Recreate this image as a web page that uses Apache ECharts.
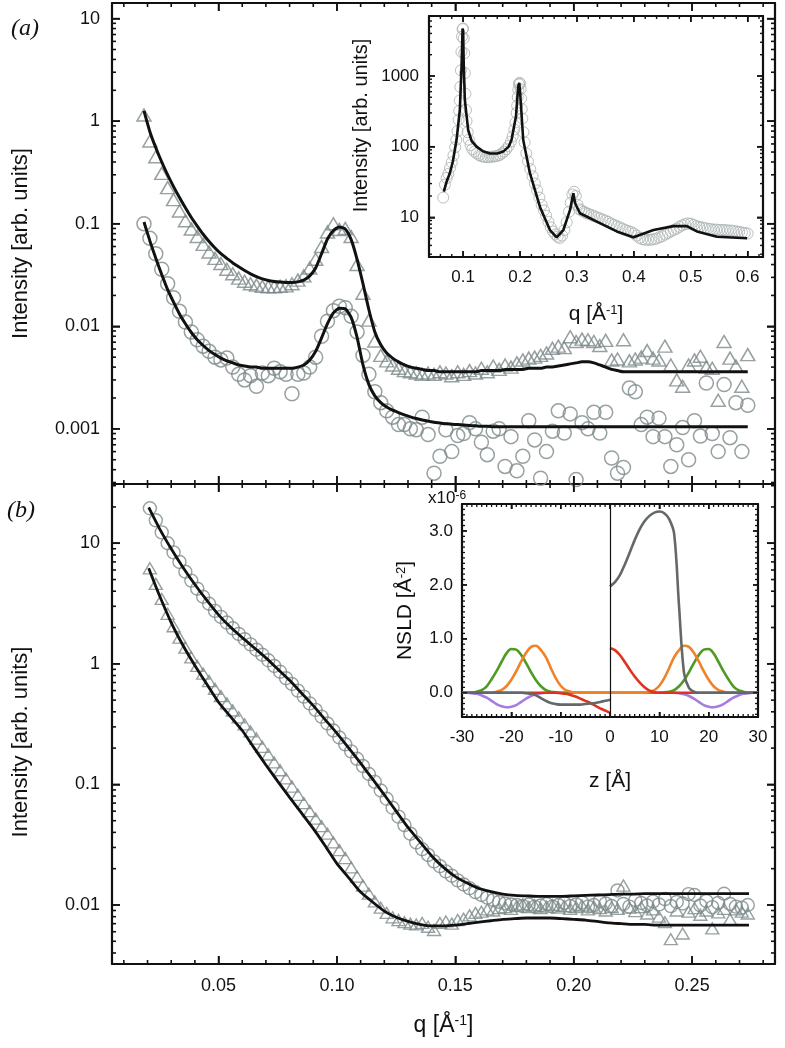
<!DOCTYPE html>
<html>
<head>
<meta charset="utf-8">
<script src="https://cdn.jsdelivr.net/npm/echarts@6/dist/echarts.min.js"></script>
<style>
html, body { margin: 0; padding: 0; background: #fff; }
#chart { width: 785px; height: 1048px; }
</style>
</head>
<body>
<div id="chart"></div>
<script>
// q grid of the measured points (panel a; panel b uses it from the 2nd point on)
var qA = [0.0185, 0.021, 0.0235, 0.026, 0.0285, 0.031, 0.0335, 0.036, 0.0385, 0.041,
    0.0435, 0.046, 0.0485, 0.051, 0.0535, 0.056, 0.0585, 0.061, 0.0635, 0.066,
    0.0685, 0.071, 0.0735, 0.076, 0.0785, 0.081, 0.0835, 0.086, 0.0885, 0.091,
    0.0935, 0.096, 0.0985, 0.101, 0.1035, 0.106, 0.1085, 0.111, 0.1135, 0.116,
    0.1185, 0.121, 0.1235, 0.126, 0.1285, 0.131, 0.1335, 0.136, 0.1385, 0.141,
    0.1435, 0.146, 0.1485, 0.151, 0.1535, 0.156, 0.1585, 0.161, 0.1635, 0.166,
    0.1685, 0.171, 0.1735, 0.176, 0.1785, 0.181, 0.1835, 0.186, 0.1885, 0.191,
    0.1935, 0.196, 0.1985, 0.201, 0.2035, 0.206, 0.2085, 0.211, 0.2135, 0.216,
    0.2185, 0.221, 0.2235, 0.226, 0.2285, 0.231, 0.2335, 0.236, 0.2385, 0.241,
    0.2435, 0.246, 0.2485, 0.251, 0.2535, 0.256, 0.2585, 0.261, 0.2635, 0.266,
    0.2685, 0.271, 0.2735];
var qB = qA.slice(1);

// panel (a) triangles / circles
var triA = [1.15, 0.64, 0.45, 0.31, 0.225, 0.172, 0.133, 0.107, 0.089, 0.075,
    0.063, 0.053, 0.046, 0.041, 0.036, 0.0325, 0.0295, 0.0275, 0.026, 0.0252,
    0.0245, 0.0243, 0.0243, 0.0245, 0.0248, 0.026, 0.0282, 0.031, 0.037, 0.045,
    0.060, 0.083, 0.100, 0.088, 0.090, 0.075, 0.040, 0.021, 0.0115, 0.0072,
    0.0052, 0.0046, 0.0042, 0.0039, 0.0037, 0.0036, 0.0035, 0.0034, 0.0035, 0.0034,
    0.0036, 0.0035, 0.0033, 0.0036, 0.0034, 0.0037, 0.0035, 0.0039, 0.0036, 0.0041,
    0.0038, 0.0042, 0.0040, 0.0044, 0.0047, 0.0049, 0.0050, 0.0052, 0.0055, 0.0061,
    0.0064, 0.0062, 0.0079, 0.0071, 0.0075, 0.0074, 0.0071, 0.0065, 0.0073, 0.0047,
    0.0048, 0.0074, 0.0046, 0.0048, 0.0050, 0.0058, 0.0049, 0.0047, 0.0064, 0.0042,
    0.0030, 0.0026, 0.0042, 0.0047, 0.0051, 0.0040, 0.0039, 0.0019, 0.0071, 0.0049,
    0.0041, 0.0026, 0.0053];
var circA = [0.100, 0.072, 0.051, 0.036, 0.026, 0.019, 0.0140, 0.0110, 0.0088, 0.0074,
    0.0064, 0.0057, 0.0050, 0.0047, 0.0049, 0.0040, 0.0034, 0.0030, 0.0033, 0.0026,
    0.0035, 0.0033, 0.0039, 0.0036, 0.0034, 0.0022, 0.0034, 0.0035, 0.0040, 0.0050,
    0.0080, 0.0112, 0.0142, 0.0157, 0.0152, 0.0125, 0.0088, 0.0052, 0.0034, 0.0023,
    0.0018, 0.0015, 0.0013, 0.0011, 0.0011, 0.0010, 0.00098, 0.0013, 0.00088, 0.00037,
    0.00054, 0.00098, 0.0006, 0.00086, 0.0009, 0.00115, 0.0010, 0.00074, 0.00056, 0.00095,
    0.0010, 0.00043, 0.00084, 0.00039, 0.00054, 0.0012, 0.00078, 0.00033, 0.0006, 0.00095,
    0.0015, 0.00091, 0.0014, 0.00032, 0.00115, 0.0010, 0.00145, 0.00091, 0.00145, 0.00052,
    0.00037, 0.00042, 0.0025, 0.0023, 0.0011, 0.0013, 0.00084, 0.00127, 0.00084, 0.00043,
    0.0007, 0.00103, 0.0005, 0.0012, 0.00085, 0.0028, 0.0009, 0.0006, 0.0027, 0.00082,
    0.0018, 0.0006, 0.0017];

// panel (a) fits, read on the same q grid
var fitTriA = [1.26, 0.79, 0.55, 0.40, 0.30, 0.23, 0.18, 0.143, 0.115, 0.095,
    0.079, 0.067, 0.058, 0.051, 0.046, 0.0415, 0.038, 0.035, 0.0325, 0.0305,
    0.029, 0.028, 0.0274, 0.0270, 0.0268, 0.0268, 0.0271, 0.0282, 0.031, 0.037,
    0.051, 0.071, 0.086, 0.093, 0.089, 0.070, 0.045, 0.026, 0.0145, 0.0088,
    0.0066, 0.0055, 0.0049, 0.0045, 0.0042, 0.0040, 0.0039, 0.0038, 0.0037, 0.0037,
    0.0036, 0.0036, 0.0036, 0.0036, 0.0036, 0.0036, 0.0036, 0.0037, 0.0037, 0.0037,
    0.0037, 0.0038, 0.0038, 0.0038, 0.0038, 0.0039, 0.0039, 0.0039, 0.0040, 0.0040,
    0.0041, 0.0042, 0.0043, 0.0044, 0.0045, 0.0045, 0.0044, 0.0042, 0.0040, 0.0038,
    0.0037, 0.0036, 0.0036, 0.0036, 0.0036, 0.0036, 0.0036, 0.0036, 0.0036, 0.0036,
    0.0036, 0.0036, 0.0036, 0.0036, 0.0036, 0.0036, 0.0036, 0.0036, 0.0036, 0.0036,
    0.0036, 0.0036, 0.0036];
var fitCircA = [0.104, 0.068, 0.046, 0.032, 0.0228, 0.0172, 0.0132, 0.0106, 0.0087, 0.0074,
    0.0065, 0.0058, 0.0053, 0.0049, 0.0046, 0.0044, 0.0042, 0.0041, 0.0040, 0.0040,
    0.0039, 0.0039, 0.0039, 0.0039, 0.0039, 0.0039, 0.0040, 0.0042, 0.0047, 0.0057,
    0.0077, 0.0106, 0.0135, 0.0150, 0.0148, 0.0122, 0.0078, 0.0042, 0.0027, 0.0021,
    0.0018, 0.00163, 0.00152, 0.00144, 0.00137, 0.00131, 0.00126, 0.00122, 0.00119, 0.00116,
    0.00114, 0.00112, 0.00111, 0.0011, 0.00109, 0.00108, 0.00107, 0.00106, 0.00106, 0.00105,
    0.00105, 0.00105, 0.00105, 0.00105, 0.00105, 0.00105, 0.00105, 0.00105, 0.00105, 0.00105,
    0.00105, 0.00105, 0.00105, 0.00105, 0.00105, 0.00105, 0.00105, 0.00105, 0.00105, 0.00105,
    0.00105, 0.00105, 0.00105, 0.00105, 0.00105, 0.00105, 0.00105, 0.00105, 0.00105, 0.00105,
    0.00105, 0.00105, 0.00105, 0.00105, 0.00105, 0.00105, 0.00105, 0.00105, 0.00105, 0.00105,
    0.00105, 0.00105, 0.00105];

// panel (b) circles / triangles
var circB = [19.5, 15.5, 12.3, 10.0, 8.4, 7.0, 5.8, 4.9, 4.2, 3.6,
    3.15, 2.75, 2.45, 2.2, 1.97, 1.77, 1.60, 1.45, 1.31, 1.19,
    1.07, 0.96, 0.86, 0.76, 0.68, 0.60, 0.535, 0.47, 0.415, 0.365,
    0.32, 0.28, 0.245, 0.215, 0.188, 0.163, 0.142, 0.122, 0.105, 0.089,
    0.076, 0.064, 0.054, 0.046, 0.039, 0.033, 0.029, 0.026, 0.023, 0.021,
    0.019, 0.0175, 0.0160, 0.0148, 0.0138, 0.0128, 0.0121, 0.0115, 0.0110, 0.0106,
    0.0103, 0.0101, 0.0100, 0.0098, 0.0101, 0.0097, 0.0099, 0.0102, 0.0097, 0.0100,
    0.0104, 0.0098, 0.0101, 0.0105, 0.0097, 0.0100, 0.0108, 0.0103, 0.0098, 0.0132,
    0.0102, 0.0097, 0.0110, 0.0104, 0.0099, 0.0107, 0.0101, 0.0112, 0.0098, 0.0106,
    0.0103, 0.0123, 0.0121, 0.0099, 0.0108, 0.0096, 0.0104, 0.0124, 0.0102, 0.0097,
    0.0095, 0.0100];
var triB = [6.2, 4.6, 3.45, 2.6, 2.05, 1.65, 1.36, 1.13, 0.96, 0.83,
    0.72, 0.62, 0.54, 0.47, 0.41, 0.36, 0.315, 0.275, 0.24, 0.205,
    0.177, 0.152, 0.131, 0.112, 0.096, 0.082, 0.070, 0.060, 0.052, 0.045,
    0.039, 0.033, 0.0285, 0.0245, 0.0205, 0.0172, 0.0145, 0.0124, 0.0107, 0.0095,
    0.0086, 0.0079, 0.0075, 0.0072, 0.0070, 0.0069, 0.0071, 0.0066, 0.0062, 0.0071,
    0.0073, 0.0070, 0.0075, 0.0077, 0.0082, 0.0086, 0.0088, 0.0092, 0.0090, 0.0094,
    0.0096, 0.0093, 0.0098, 0.0101, 0.0096, 0.0099, 0.0094, 0.0097, 0.0100, 0.0095,
    0.0098, 0.0093, 0.0096, 0.0099, 0.0092, 0.0097, 0.0094, 0.0090, 0.0096, 0.0093,
    0.0145, 0.0095, 0.0089, 0.0096, 0.0085, 0.0092, 0.0080, 0.0072, 0.0052, 0.0090,
    0.0058, 0.0088, 0.0094, 0.0083, 0.0090, 0.0064, 0.0087, 0.0093, 0.0076, 0.0092,
    0.0088, 0.0085];

// panel (b) fits
var qFitB = [0.0205, 0.025, 0.03, 0.035, 0.04, 0.045, 0.05, 0.055, 0.06, 0.065,
    0.07, 0.075, 0.08, 0.085, 0.09, 0.095, 0.1, 0.105, 0.11, 0.115,
    0.12, 0.125, 0.13, 0.135, 0.14, 0.145, 0.15, 0.155, 0.16, 0.165,
    0.17, 0.175, 0.18, 0.185, 0.19, 0.195, 0.2, 0.205, 0.21, 0.215,
    0.22, 0.225, 0.23, 0.235, 0.24, 0.245, 0.25, 0.255, 0.26, 0.265,
    0.27, 0.274];
var fitCircB = [19.8, 13.3, 9.0, 6.3, 4.55, 3.37, 2.55, 2.02, 1.65, 1.36,
    1.12, 0.904, 0.73, 0.573, 0.45, 0.345, 0.265, 0.20, 0.15, 0.111,
    0.082, 0.060, 0.044, 0.0335, 0.0255, 0.0205, 0.0172, 0.0152, 0.0137, 0.0129,
    0.0123, 0.0120, 0.0119, 0.0118, 0.0118, 0.0118, 0.0119, 0.0120, 0.0121, 0.0122,
    0.0123, 0.0123, 0.0124, 0.0124, 0.0124, 0.0124, 0.0124, 0.0124, 0.0124, 0.0124,
    0.0124, 0.0124];
var fitTriB = [6.2, 3.7, 2.2, 1.42, 0.97, 0.68, 0.48, 0.366, 0.28, 0.201,
    0.145, 0.106, 0.078, 0.058, 0.043, 0.031, 0.022, 0.0168, 0.0128, 0.0106,
    0.0089, 0.0079, 0.0073, 0.0069, 0.0067, 0.0067, 0.0068, 0.0070, 0.0072, 0.0074,
    0.0076, 0.0077, 0.0078, 0.0078, 0.0078, 0.0077, 0.0076, 0.0075, 0.0073, 0.0071,
    0.0070, 0.0069, 0.0069, 0.0068, 0.0068, 0.0068, 0.0068, 0.0068, 0.0068, 0.0068,
    0.0068, 0.0068];

// inset (a): wide q range
var qIn = [0.065, 0.068, 0.071, 0.074, 0.077, 0.080, 0.083, 0.086, 0.088, 0.090,
    0.092, 0.093, 0.094, 0.095, 0.096, 0.097, 0.098, 0.099, 0.100, 0.101,
    0.102, 0.103, 0.104, 0.105, 0.106, 0.108, 0.110, 0.113, 0.116, 0.120,
    0.124, 0.128, 0.132, 0.136, 0.140, 0.144, 0.148, 0.152, 0.156, 0.160,
    0.164, 0.168, 0.172, 0.176, 0.180, 0.184, 0.187, 0.190, 0.192, 0.194,
    0.195, 0.196, 0.197, 0.198, 0.199, 0.200, 0.201, 0.202, 0.203, 0.204,
    0.206, 0.208, 0.211, 0.214, 0.218, 0.222, 0.226, 0.230, 0.234, 0.238,
    0.242, 0.246, 0.250, 0.254, 0.258, 0.262, 0.266, 0.270, 0.274, 0.278,
    0.282, 0.286, 0.289, 0.292, 0.295, 0.298, 0.301, 0.304, 0.308, 0.312,
    0.316, 0.320, 0.325, 0.330, 0.335, 0.340, 0.345, 0.350, 0.355, 0.360,
    0.365, 0.370, 0.375, 0.380, 0.385, 0.390, 0.395, 0.400, 0.405, 0.410,
    0.415, 0.420, 0.425, 0.430, 0.435, 0.440, 0.445, 0.450, 0.455, 0.460,
    0.465, 0.470, 0.475, 0.480, 0.485, 0.490, 0.495, 0.500, 0.505, 0.510,
    0.515, 0.520, 0.525, 0.530, 0.535, 0.540, 0.545, 0.550, 0.555, 0.560,
    0.565, 0.570, 0.575, 0.580, 0.585, 0.590, 0.595, 0.600];
var inCirc = [19, 29, 36, 41, 50, 60, 75, 98, 125, 165,
    240, 320, 450, 700, 1200, 2200, 3600, 4600, 4700, 3400,
    2100, 1100, 560, 330, 230, 160, 125, 105, 92, 85,
    80, 76, 73, 72, 71, 71, 72, 72, 73, 74,
    76, 80, 85, 92, 102, 118, 140, 175, 220, 300,
    380, 500, 640, 760, 800, 780, 650, 480, 340, 250,
    160, 115, 80, 62, 48, 38, 30, 24, 19, 15,
    12.5, 10.5, 8.6, 7.2, 6.3, 5.7, 5.3, 5.1, 5.5, 6.6,
    8.5, 12, 16, 21, 23, 20, 15, 13, 12.5, 12,
    11.5, 11.2, 10.8, 10.4, 10, 9.7, 9.3, 9.0, 8.6, 8.2,
    7.8, 7.5, 7.2, 6.9, 6.6, 6.4, 6.2, 5.9, 5.5, 5.1,
    4.9, 4.8, 4.8, 4.8, 4.9, 5.0, 5.2, 5.4, 5.7, 6.0,
    6.3, 6.6, 6.9, 7.3, 7.7, 8.0, 8.2, 8.1, 7.8, 7.5,
    7.3, 7.2, 7.0, 6.9, 6.8, 6.7, 6.7, 6.6, 6.6, 6.6,
    6.5, 6.5, 6.4, 6.3, 6.2, 6.1, 6.0, 5.9];
var qInFit = [0.066, 0.071, 0.0766, 0.082, 0.0884, 0.0942, 0.0972, 0.099, 0.1, 0.101,
    0.103, 0.1088, 0.115, 0.1236, 0.135, 0.147, 0.16, 0.1704, 0.18, 0.185,
    0.1928, 0.1968, 0.1986, 0.2, 0.201, 0.2056, 0.2174, 0.235, 0.2526, 0.2644,
    0.2761, 0.2879, 0.2937, 0.2967, 0.3054, 0.335, 0.37, 0.3993, 0.4345, 0.4697,
    0.4933, 0.5109, 0.5461, 0.599];
var inFit = [23, 32, 42, 62, 124, 330, 1360, 4700, 4400, 1500,
    457, 172, 120, 100, 86, 80, 80, 85, 100, 124,
    266, 707, 800, 600, 457, 124, 42, 14, 6.6, 5.2,
    6.6, 12.7, 21.9, 15.8, 11.4, 8.7, 6.3, 5.2, 6.6, 7.5,
    7.5, 6.3, 5.3, 5.05];

// inset (b): NSLD profiles, left and right of the z = 0 interface
var zL = [-30, -29, -28, -27, -26, -25, -24, -23, -22, -21, -20, -19, -18, -17, -16, -15,
    -14, -13, -12, -11, -10, -9, -8, -7, -6, -5, -4, -3, -2, -1, 0];
var zR = [0, 1, 2, 3, 4, 5, 6, 7, 8, 9, 10, 11, 12, 13, 14, 15,
    16, 17, 18, 19, 20, 21, 22, 23, 24, 25, 26, 27, 28, 29, 30];
var greenL = [0, 0, 0, 0.02, 0.05, 0.12, 0.25, 0.40, 0.57, 0.73, 0.81, 0.80, 0.70, 0.55, 0.38, 0.23,
    0.12, 0.05, 0.02, 0.01, 0, 0, 0, 0, 0, 0, 0, 0, 0, 0, 0];
var greenR = [0, 0, 0, 0, 0, 0, 0, 0, 0, 0, 0, 0.01, 0.02, 0.05, 0.12, 0.23,
    0.38, 0.55, 0.70, 0.80, 0.81, 0.73, 0.57, 0.40, 0.25, 0.12, 0.05, 0.02, 0, 0, 0];
var orangeL = [0, 0, 0, 0, 0, 0, 0, 0.02, 0.05, 0.12, 0.24, 0.40, 0.58, 0.74, 0.85, 0.87,
    0.79, 0.66, 0.46, 0.27, 0.13, 0.05, 0.02, 0, 0, 0, 0, 0, 0, 0, 0];
var orangeR = [0, 0, 0, 0, 0, 0, 0, 0, 0.02, 0.05, 0.13, 0.27, 0.46, 0.66, 0.79, 0.87,
    0.85, 0.74, 0.58, 0.40, 0.24, 0.12, 0.05, 0.02, 0, 0, 0, 0, 0, 0, 0];
var purpleL = [0, 0, -0.01, -0.02, -0.05, -0.09, -0.15, -0.21, -0.25, -0.27, -0.26, -0.23, -0.17, -0.11, -0.06, -0.03,
    -0.01, 0, 0, 0, 0, 0, 0, 0, 0, 0, 0, 0, 0, 0, 0];
var purpleR = [0, 0, 0, 0, 0, 0, 0, 0, 0, 0, 0, 0, 0, 0, -0.01, -0.03,
    -0.06, -0.11, -0.17, -0.23, -0.26, -0.27, -0.25, -0.21, -0.15, -0.09, -0.05, -0.02, -0.01, 0, 0];
var redL = [0, 0, 0, 0, 0, 0, 0, 0, 0, 0, 0, 0, 0, 0, 0, 0,
    0, 0, 0, 0, -0.01, -0.02, -0.04, -0.07, -0.11, -0.15, -0.19, -0.24, -0.29, -0.33, -0.37];
var redR = [0.83, 0.79, 0.70, 0.57, 0.43, 0.30, 0.19, 0.10, 0.04, 0.01, 0, 0, 0, 0, 0, 0,
    0, 0, 0, 0, 0, 0, 0, 0, 0, 0, 0, 0, 0, 0, 0];
var greyL = [0, 0, 0, 0, 0, 0, 0, 0, 0, 0, 0, 0, 0, -0.01, -0.02, -0.05,
    -0.10, -0.15, -0.19, -0.21, -0.22, -0.22, -0.22, -0.22, -0.22, -0.21, -0.20, -0.19, -0.17, -0.15, -0.13];
var greyR = [1.97, 2.05, 2.18, 2.38, 2.6, 2.83, 3.03, 3.18, 3.28, 3.34, 3.36, 3.33, 3.22, 2.95, 1.6, 0.37,
    0.09, 0.02, 0, 0, 0, 0, 0, 0, 0, 0, 0, 0, 0, 0, 0];

// tick values
var tickQMajor = [0.05, 0.10, 0.15, 0.20, 0.25];
var tickQMinor = [0.01, 0.02, 0.03, 0.04, 0.06, 0.07, 0.08, 0.09, 0.11, 0.12, 0.13, 0.14,
    0.16, 0.17, 0.18, 0.19, 0.21, 0.22, 0.23, 0.24, 0.26, 0.27, 0.28];
var tickIntA = [0.001, 0.01, 0.1, 1, 10];
var tickIntB = [0.01, 0.1, 1, 10];
var tickInQ = [0.1, 0.2, 0.3, 0.4, 0.5, 0.6];
var tickInQMinor = [0.04, 0.06, 0.08, 0.12, 0.14, 0.16, 0.18, 0.22, 0.24, 0.26, 0.28,
    0.32, 0.34, 0.36, 0.38, 0.42, 0.44, 0.46, 0.48, 0.52, 0.54, 0.56, 0.58, 0.62];
var tickInI = [10, 100, 1000];
var tickZ = [-30, -20, -10, 0, 10, 20, 30];
var tickZMajor = [-20, -10, 0, 10, 20];
var tickNsld = [0, 1, 2, 3];

var FONT = 'Liberation Sans, Arial, sans-serif';
var SYM = '#7d8989';

// grid boxes
var GRIDS = [
    { left: 112, top: 3, width: 663, height: 481 },
    { left: 112, top: 484, width: 663, height: 480 },
    { left: 429, top: 16, width: 334, height: 241 },
    { left: 462, top: 504, width: 296, height: 213 }
];

function logMinor(lo, hi) {
    var out = [];
    for (var e = Math.floor(Math.log10(lo)); e <= Math.ceil(Math.log10(hi)); e++) {
        for (var k = 2; k <= 9; k++) {
            var v = Number((k * Math.pow(10, e)).toPrecision(3));
            if (v >= lo && v <= hi) out.push(v);
        }
    }
    return out;
}

function stepTicks(lo, hi, step, skip) {
    var out = [];
    var n = Math.round((hi - lo) / step);
    for (var i = 0; i <= n; i++) {
        var v = Number((lo + i * step).toFixed(4));
        if (!skip || skip.indexOf(v) < 0) out.push(v);
    }
    return out;
}

function pairs(xs, ys) {
    var out = [];
    for (var i = 0; i < xs.length && i < ys.length; i++) {
        if (ys[i] != null) out.push([xs[i], ys[i]]);
    }
    return out;
}

function fmtLog(v) {
    return v >= 1 ? String(Math.round(v)) : String(Number(v.toPrecision(1)));
}

var xAxes = [], yAxes = [], series = [], tickEls = [];

function frameAxis(list, c) {
    list.push({
        type: c.log ? 'log' : 'value',
        logBase: 10,
        gridIndex: c.grid,
        position: c.pos,
        min: c.min,
        max: c.max,
        splitNumber: 5,
        name: c.name || '',
        nameLocation: 'middle',
        nameGap: c.nameGap || 0,
        nameTextStyle: c.nameStyle || {},
        axisLine: { show: true, onZero: false, lineStyle: { color: '#111', width: 2.2 } },
        axisTick: { show: true, inside: true, length: c.len, lineStyle: { color: '#111', width: 1.5 } },
        axisLabel: c.labels ? {
            show: true, customValues: c.labels, formatter: c.fmt, margin: c.margin,
            fontSize: c.fs, color: '#111', fontFamily: FONT
        } : { show: false },
        splitLine: { show: false }
    });
    return list.length - 1;
}

// fraction of the way along an axis (same linear / log10 scale the axis uses)
function frac(v, a) {
    if (a.log) return (Math.log10(v) - Math.log10(a.min)) / (Math.log10(a.max) - Math.log10(a.min));
    return (v - a.min) / (a.max - a.min);
}

function tickLine(x1, y1, x2, y2, w) {
    tickEls.push({
        type: 'line', silent: true, z: 100,
        shape: { x1: x1, y1: y1, x2: x2, y2: y2 },
        style: { stroke: '#111', lineWidth: w }
    });
}

// inward tick marks on all four sides of a frame
function frameTicks(c) {
    var g = GRIDS[c.grid];
    var bottom = g.top + g.height, right = g.left + g.width;
    c.xt.forEach(function(t) {
        t.v.forEach(function(v) {
            var x = g.left + frac(v, c.x) * g.width;
            tickLine(x, bottom, x, bottom - t.len, c.tw);
            tickLine(x, g.top, x, g.top + t.len, c.tw);
        });
    });
    c.yt.forEach(function(t) {
        t.v.forEach(function(v) {
            var y = bottom - frac(v, c.y) * g.height;
            tickLine(g.left, y, g.left + t.len, y, c.tw);
            tickLine(right, y, right - t.len, y, c.tw);
        });
    });
}

function panel(c) {
    var xi = frameAxis(xAxes, Object.assign({}, c.x, { grid: c.grid, pos: 'bottom', len: c.xt[0].len }));
    frameAxis(xAxes, { grid: c.grid, pos: 'top', min: c.x.min, max: c.x.max, len: c.xt[0].len });
    var yi = frameAxis(yAxes, Object.assign({}, c.y, { grid: c.grid, pos: 'left', len: c.yt[0].len }));
    frameAxis(yAxes, { grid: c.grid, pos: 'right', min: c.y.min, max: c.y.max, log: c.y.log, len: c.yt[0].len });
    frameTicks(c);
    return [xi, yi];
}

function supRich(fs, sfs) {
    return {
        t: { fontSize: fs, fontFamily: FONT, color: '#111' },
        s: { fontSize: sfs, fontFamily: FONT, color: '#111', verticalAlign: 'top' }
    };
}

// ---- panel (a)
var pA = panel({
    grid: 0, tw: 1.6,
    x: { min: 0.005, max: 0.285 },
    y: {
        log: true, min: 0.00029, max: 14.2, labels: tickIntA, fmt: fmtLog, margin: 12, fs: 18,
        name: 'Intensity [arb. units]', nameGap: 80, nameStyle: { fontSize: 22, fontFamily: FONT, color: '#111' }
    },
    xt: [{ v: tickQMajor, len: 8 }, { v: tickQMinor, len: 4 }],
    yt: [{ v: tickIntA, len: 8 }, { v: logMinor(0.00029, 14.2), len: 4 }]
});

// ---- panel (b)
var pB = panel({
    grid: 1, tw: 1.6,
    x: {
        min: 0.005, max: 0.285, labels: tickQMajor, fmt: function(v) { return v.toFixed(2); }, margin: 13, fs: 18,
        name: '{t|q [Å}{s|-1}{t|]}', nameGap: 50, nameStyle: { rich: supRich(23, 14) }
    },
    y: {
        log: true, min: 0.00324, max: 31, labels: tickIntB, fmt: fmtLog, margin: 12, fs: 18,
        name: 'Intensity [arb. units]', nameGap: 80,
        nameStyle: { fontSize: 22, fontFamily: FONT, color: '#111', padding: [0, 36, 0, 0] }
    },
    xt: [{ v: tickQMajor, len: 8 }, { v: tickQMinor, len: 4 }],
    yt: [{ v: tickIntB, len: 8 }, { v: logMinor(0.00324, 31), len: 4 }]
});

// ---- inset (a)
var pIA = panel({
    grid: 2, tw: 1.4,
    x: {
        min: 0.04, max: 0.627, labels: tickInQ, fmt: function(v) { return v.toFixed(1); }, margin: 12, fs: 17,
        name: '{t|q [Å}{s|-1}{t|]}', nameGap: 47, nameStyle: { rich: supRich(21, 13) }
    },
    y: {
        log: true, min: 2.74, max: 7060, labels: tickInI, fmt: fmtLog, margin: 10, fs: 17,
        name: 'Intensity [arb. units]', nameGap: 58,
        nameStyle: { fontSize: 20, fontFamily: FONT, color: '#111', padding: [0, 0, 0, 22] }
    },
    xt: [{ v: tickInQ, len: 6 }, { v: tickInQMinor, len: 3 }],
    yt: [{ v: tickInI, len: 6 }, { v: logMinor(2.74, 7060), len: 3 }]
});

// ---- inset (b)
var pIB = panel({
    grid: 3, tw: 1.3,
    x: {
        min: -30, max: 30, labels: tickZ, fmt: function(v) { return String(v); }, margin: 12, fs: 17,
        name: 'z [Å]', nameGap: 54, nameStyle: { fontSize: 21, fontFamily: FONT, color: '#111' }
    },
    y: {
        min: -0.45, max: 3.5, labels: tickNsld, fmt: function(v) { return v.toFixed(1); }, margin: 9, fs: 17,
        name: '{t|NSLD [Å}{s|-2}{t|]}', nameGap: 46, nameStyle: { rich: supRich(21, 13) }
    },
    xt: [{ v: tickZMajor, len: 5 }, { v: stepTicks(-29, 29, 1, tickZMajor), len: 3 }],
    yt: [{ v: tickNsld, len: 5 }, { v: stepTicks(-0.4, 3.4, 0.1, tickNsld), len: 3 }]
});

function addScatter(p, data, sym, size, color, bw) {
    series.push({
        type: 'scatter', xAxisIndex: p[0], yAxisIndex: p[1], data: data,
        symbol: sym, symbolSize: size, silent: true, z: 2,
        itemStyle: { color: 'rgba(0,0,0,0)', borderColor: color, borderWidth: bw }
    });
}

function addLine(p, data, color, width, smooth) {
    series.push({
        type: 'line', xAxisIndex: p[0], yAxisIndex: p[1], data: data,
        showSymbol: false, symbol: 'none', smooth: smooth, silent: true, z: 3,
        lineStyle: { color: color, width: width }
    });
}

// panel (a)
addScatter(pA, pairs(qA, triA), 'triangle', [14, 12], SYM, 1.5);
addScatter(pA, pairs(qA, circA), 'circle', 14, SYM, 1.5);
addLine(pA, pairs(qA, fitTriA), '#111', 3, 0.2);
addLine(pA, pairs(qA, fitCircA), '#111', 3, 0.2);

// panel (b)
addScatter(pB, pairs(qB, triB), 'triangle', [13, 11], SYM, 1.4);
addScatter(pB, pairs(qB, circB), 'circle', 13, SYM, 1.4);
addLine(pB, pairs(qFitB, fitCircB), '#111', 2.8, 0.2);
addLine(pB, pairs(qFitB, fitTriB), '#111', 2.8, 0.2);

// inset (a)
addScatter(pIA, pairs(qIn, inCirc), 'circle', 11, '#a9b0b0', 1);
addLine(pIA, pairs(qInFit, inFit), '#111', 2.6, false);

// inset (b): draw order purple, green, orange, red, grey
var nsld = [
    ['#a57ce0', purpleL, purpleR],
    ['#4e9a22', greenL, greenR],
    ['#f0822a', orangeL, orangeR],
    ['#e0321e', redL, redR],
    ['#646868', greyL, greyR]
];
nsld.forEach(function(c) {
    addLine(pIB, pairs(zL, c[1]), c[0], 2.6, 0.35);
    addLine(pIB, pairs(zR, c[2]), c[0], 2.6, 0.35);
});
// interface at z = 0
series.push({
    type: 'line', xAxisIndex: pIB[0], yAxisIndex: pIB[1], data: [], silent: true, z: 4,
    markLine: {
        silent: true, symbol: 'none', animation: false, label: { show: false },
        lineStyle: { color: '#111', width: 1.2, type: 'solid' },
        data: [{ xAxis: 0 }]
    }
});

var panelLabel = { fontFamily: 'Liberation Serif', fontStyle: 'italic', fontWeight: 'normal', fontSize: 24, color: '#111' };
var chart = echarts.init(document.getElementById('chart'), null, { renderer: 'canvas' });
chart.setOption({
    animation: false,
    backgroundColor: '#fff',
    title: [
        { text: '(a)', left: 6, top: 12, textStyle: panelLabel },
        { text: '(b)', left: 2, top: 494, textStyle: panelLabel },
        {
            text: '{a|x10}{b|-6}', left: 423, top: 485,
            textStyle: {
                fontWeight: 'normal',
                rich: {
                    a: { fontSize: 17, fontFamily: FONT, fontWeight: 'normal', color: '#111' },
                    b: { fontSize: 12, fontFamily: FONT, fontWeight: 'normal', color: '#111', verticalAlign: 'top' }
                }
            }
        }
    ],
    grid: GRIDS,
    xAxis: xAxes,
    yAxis: yAxes,
    graphic: tickEls,
    series: series
});
</script>
</body>
</html>
